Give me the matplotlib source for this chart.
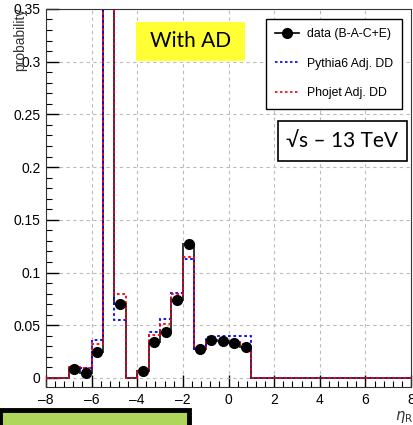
import matplotlib
matplotlib.use("Agg")
import matplotlib.pyplot as plt
from matplotlib.lines import Line2D
from matplotlib.patches import Rectangle
from matplotlib.ticker import MultipleLocator, AutoMinorLocator

# eta_R bin edges and per-bin probabilities
edges = [-8, -7, -6.5, -6, -5.5, -5, -4.5, -4, -3.5, -3, -2.5, -2,
         -1.5, -1, -0.5, 0, 0.5, 1, 8]
data = [0, 0.0082, 0.005, 0.025, 0.52, 0.070, 0, 0.0068, 0.034, 0.044,
        0.074, 0.127, 0.027, 0.036, 0.035, 0.033, 0.029, 0]
pythia = [0, 0.009, 0.009, 0.036, 0.52, 0.055, 0, 0.008, 0.044, 0.056,
          0.081, 0.113, 0.027, 0.039, 0.040, 0.040, 0.040, 0]
phojet = [0, 0.010, 0.009, 0.032, 0.52, 0.080, 0, 0.007, 0.041, 0.051,
          0.080, 0.115, 0.028, 0.036, 0.036, 0.034, 0.032, 0]
labels = ["data (B-A-C+E)", "Pythia6 Adj. DD", "Phojet Adj. DD"]

plt.rcParams["font.family"] = ["Liberation Sans", "DejaVu Sans"]

fig = plt.figure(figsize=(4.14, 4.25), dpi=100)
ax = fig.add_axes([0.111, 0.0894, 0.882, 0.8896])

ax.stairs(data, edges, color="#333333", lw=1.4, zorder=3)
ax.stairs(pythia, edges, color="blue", lw=1.3, ls=(0, (1.5, 1.5)), zorder=4)
ax.stairs(phojet, edges, color="red", lw=1.3, ls=(0, (1.5, 1.5)), zorder=5)

centers = [(edges[i] + edges[i + 1]) / 2 for i in range(len(data))]
mx = [c for c, v in zip(centers, data) if v > 0]
my = [v for v in data if v > 0]
ax.plot(mx, my, "o", color="black", ms=7, zorder=6)

ax.set_xlim(-8, 8)
ax.set_ylim(-0.0086, 0.35)
ax.xaxis.set_major_locator(MultipleLocator(2))
ax.xaxis.set_minor_locator(AutoMinorLocator(5))
ax.yaxis.set_major_locator(MultipleLocator(0.05))
ax.yaxis.set_minor_locator(AutoMinorLocator(5))
ax.yaxis.set_major_formatter(plt.FuncFormatter(lambda v, p: f"{v:g}"))
ax.xaxis.set_major_formatter(plt.FuncFormatter(lambda v, p: f"{v:g}".replace("-", "\u2013")))
ax.tick_params(direction="in", which="major", length=9, width=1, labelsize=10, pad=4)
ax.tick_params(direction="in", which="minor", length=4.5, width=0.8)
ax.grid(True, which="major", color="#bbbbbb", ls=(0, (3, 3)), lw=0.8)
for s in ax.spines.values():
    s.set_color("#333333")

handles = [
    Line2D([], [], color="black", marker="o", ms=7, lw=1.2),
    Line2D([], [], color="blue", ls=(0, (1.5, 1.5)), lw=1.2),
    Line2D([], [], color="red", ls=(0, (1.5, 1.5)), lw=1.2),
]
leg = ax.legend(handles, labels, loc="upper right", bbox_to_anchor=(0.975, 0.974),
                fontsize=8.8, fancybox=False, edgecolor="black", framealpha=1,
                handlelength=2.0, handletextpad=0.6, labelspacing=1.45,
                borderpad=0.75, borderaxespad=0)
leg.get_frame().set_linewidth(1)

# "With AD" yellow label and sqrt(s) box
ax.add_patch(Rectangle((0.2466, 0.8624), 0.2986, 0.1032, transform=ax.transAxes,
                       fc="#ffff33", ec="none", zorder=7))
ax.text(0.396, 0.914, "With AD", transform=ax.transAxes, fontsize=15,
        family="Lato", ha="center", va="center", zorder=8)
ax.add_patch(Rectangle((0.6356, 0.5979), 0.3534, 0.1058, transform=ax.transAxes,
                       fc="white", ec="black", lw=1.2, zorder=7))
ax.text(0.812, 0.651, "\u221as \u2013 13 TeV", transform=ax.transAxes, fontsize=15,
        family="Lato", ha="center", va="center", zorder=8)

fig.text(0.048, 0.982, "probability", rotation=90, ha="center", va="top",
         fontsize=10, color="#333333")
fig.text(0.975, 0.018, r"$\eta_{\mathrm{R}}$", ha="center", va="center",
         fontsize=10.5, color="#333333")

fig.patches.append(Rectangle((0.0, -0.02), 0.457, 0.056, transform=fig.transFigure,
                             fc="#add65a", ec="black", lw=3.5))

fig.savefig("out.png", dpi=100)
